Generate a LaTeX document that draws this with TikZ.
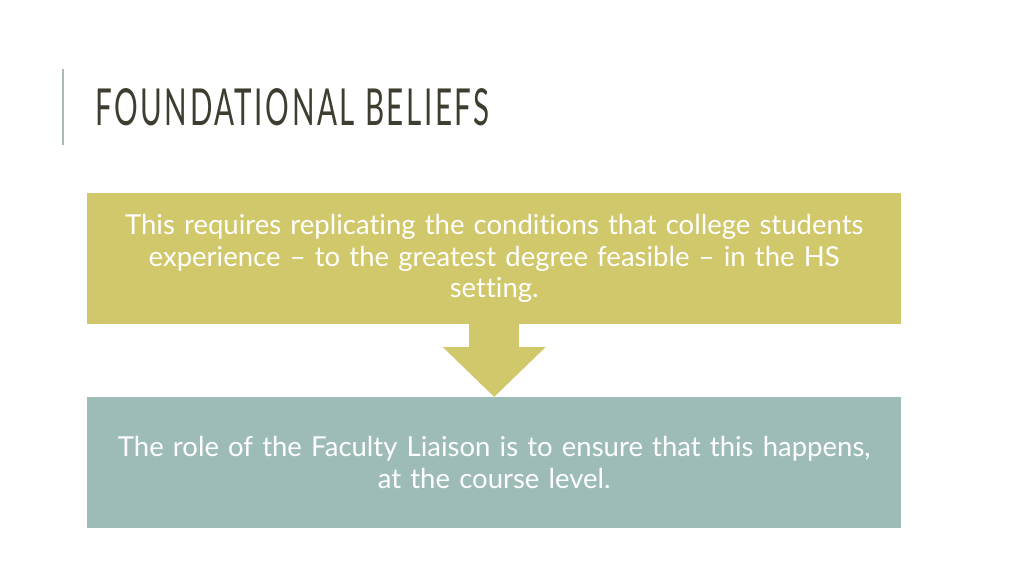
\documentclass[tikz,border=0pt]{standalone}
\usepackage{fontspec}
\setmainfont[Ligatures=NoCommon]{Lato}
\newfontfamily\titlefont[FakeStretch=0.58,LetterSpace=5]{Lato}
\usetikzlibrary{arrows.meta}
\definecolor{boxolive}{HTML}{D1C86B}
\definecolor{boxteal}{HTML}{9DBCB8}
\definecolor{titleink}{HTML}{3E3D30}
\definecolor{barline}{HTML}{A9BCBC}
\begin{document}
\begin{tikzpicture}[x=1pt, y=-1pt, font=\fontsize{27.5}{31.5}\selectfont, >=Triangle]
	\tikzset{stagebox/.style={fill=#1, text=white, minimum width=814pt, minimum height=131pt, text width=800pt, align=center, inner sep=0pt, anchor=north west}}
	\useasboundingbox (0,0) rectangle (1024,576);
	\fill[white] (0,0) rectangle (1024,576);
	% title
	\draw[barline, line width=2pt] (63,69) -- (63,145);
	\node[anchor=west, inner sep=0pt, text=titleink, font=\titlefont\fontsize{51}{51}\selectfont] (title) at (95,107) {FOUNDATIONAL BELIEFS};
	% the two stages
	\node[stagebox=boxolive] (cond) at (87,193) {This requires replicating the conditions that college students\\ experience -- to the greatest degree feasible -- in the HS\\ setting.};
	\node[stagebox=boxteal] (role) at (87,397) {The role of the Faculty Liaison is to ensure that this happens,\\ at the course level.};
	\draw[boxolive, line width=50pt, -{Triangle[width=100pt,length=50pt]}] (cond.south) -- (role.north);
\end{tikzpicture}
\end{document}
